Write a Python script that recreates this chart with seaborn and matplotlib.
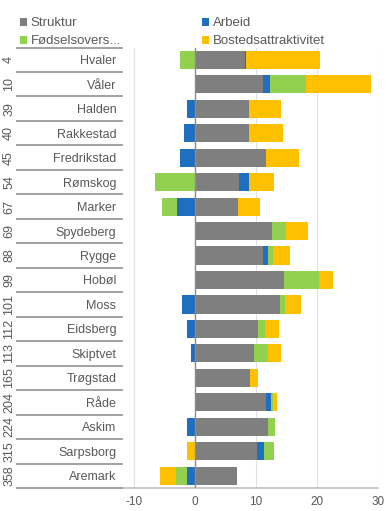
import numpy as np
import pandas as pd
import matplotlib
matplotlib.use("Agg")
import matplotlib.pyplot as plt
import seaborn as sns
from matplotlib.patches import Patch

# Kommuner i Østfold, sortert etter rangering
kommuner = ["Hvaler", "Våler", "Halden", "Rakkestad", "Fredrikstad", "Rømskog",
            "Marker", "Spydeberg", "Rygge", "Hobøl", "Moss", "Eidsberg",
            "Skiptvet", "Trøgstad", "Råde", "Askim", "Sarpsborg", "Aremark"]
rangering = [4, 10, 39, 40, 45, 54, 67, 69, 88, 99, 101, 112, 113, 165, 204, 224, 315, 358]

# Bidrag til befolkningsvekst (prosent)
struktur = [8.1, 11.1, 8.9, 8.9, 11.6, 7.2, 7.0, 12.6, 11.2, 14.5, 13.9, 10.3, 9.6, 9.0, 11.6, 11.9, 10.1, 6.8]
arbeid = [0.3, 1.2, -1.3, -1.8, -2.4, 1.7, -2.9, 0.0, 0.7, 0.0, -2.2, -1.4, -0.7, 0.0, 0.8, -1.3, 1.2, -1.3]
fodsel = [-2.4, 5.8, 0.0, 0.0, 0.0, -6.5, -2.6, 2.3, 0.8, 5.8, 0.9, 1.2, 2.3, 0.0, 0.3, 1.2, 1.6, -1.9]
bosted = [12.0, 10.7, 5.2, 5.5, 5.4, 4.1, 3.7, 3.6, 2.9, 2.3, 2.6, 2.3, 2.1, 1.3, 0.8, 0.0, -1.4, -2.6]

serier = ["Struktur", "Arbeid", "Fødselsovers...", "Bostedsattraktivitet"]
farger = ["#7f7f7f", "#1f6fc0", "#92d050", "#ffc000"]
verdier = [struktur, arbeid, fodsel, bosted]

plt.rcParams["font.family"] = ["Liberation Sans", "DejaVu Sans"]
plt.rcParams["axes.unicode_minus"] = False

tekstfarge = "#595959"

fig = plt.figure(figsize=(3.87, 5.11), dpi=100)
ax = fig.add_axes([0.315, 0.045, 0.662, 0.862])

# Stablede segmenter: positive og negative bidrag stables hver for seg fra null
pos = np.zeros(len(kommuner))
neg = np.zeros(len(kommuner))
ender = []
for v in verdier:
    v = np.asarray(v, dtype=float)
    pos = pos + np.where(v > 0, v, 0)
    neg = neg + np.where(v < 0, v, 0)
    ender.append(np.where(v < 0, neg, pos))

# Ytterste segment tegnes først, så dekker de indre segmentene resten
for navn, farge, ende in reversed(list(zip(serier, farger, ender))):
    df = pd.DataFrame({"kommune": kommuner, "verdi": ende})
    sns.barplot(data=df, x="verdi", y="kommune", order=kommuner, orient="h",
                color=farge, saturation=1, width=0.74, errorbar=None,
                linewidth=0, ax=ax, zorder=3)

ax.set_xlim(-12, 30)
ax.set_ylim(len(kommuner) - 0.5, -0.5)
ax.set_xticks([-10, 0, 10, 20, 30])
ax.set_xlabel("")
ax.set_ylabel("")
ax.grid(axis="x", color="#e0e0e0", linewidth=0.8, zorder=0)
ax.set_axisbelow(True)
ax.axvline(0, color="#8c8c8c", linewidth=1.0, zorder=4)

for s in ["top", "right", "left"]:
    ax.spines[s].set_visible(False)
ax.spines["bottom"].set_color("#bfbfbf")
ax.spines["bottom"].set_linewidth(1.2)

ax.tick_params(axis="x", length=0, pad=6, labelsize=8.5, labelcolor=tekstfarge)
ax.tick_params(axis="y", length=0, pad=4, labelsize=9, labelcolor=tekstfarge)

# Rangering i egen kolonne, med skillelinjer mellom radene
ytrans = ax.get_yaxis_transform()
for i, r in enumerate(rangering):
    ax.text(-0.44, i, str(r), transform=ytrans, rotation=90, ha="center",
            va="center", fontsize=9, color=tekstfarge)
for b in np.arange(-0.5, len(kommuner), 1.0):
    ax.plot([-0.41, 0.0], [b, b], transform=ytrans, color="#9a9a9a",
            linewidth=1.3, clip_on=False, zorder=5)

# Tegnforklaring i to kolonner øverst
handles = [Patch(facecolor=f, edgecolor="none") for f in farger]
for kol, x0 in [(0, 0.052), (1, 0.522)]:
    idx = [kol, kol + 2]
    fig.legend([handles[i] for i in idx], [serier[i] for i in idx],
               loc="upper left", bbox_to_anchor=(x0, 0.966), frameon=False,
               fontsize=9.5, handlelength=0.55, handleheight=0.55,
               handletextpad=0.25, labelspacing=0.45, labelcolor=tekstfarge,
               borderaxespad=0, borderpad=0)

fig.savefig("out.png", dpi=100)
